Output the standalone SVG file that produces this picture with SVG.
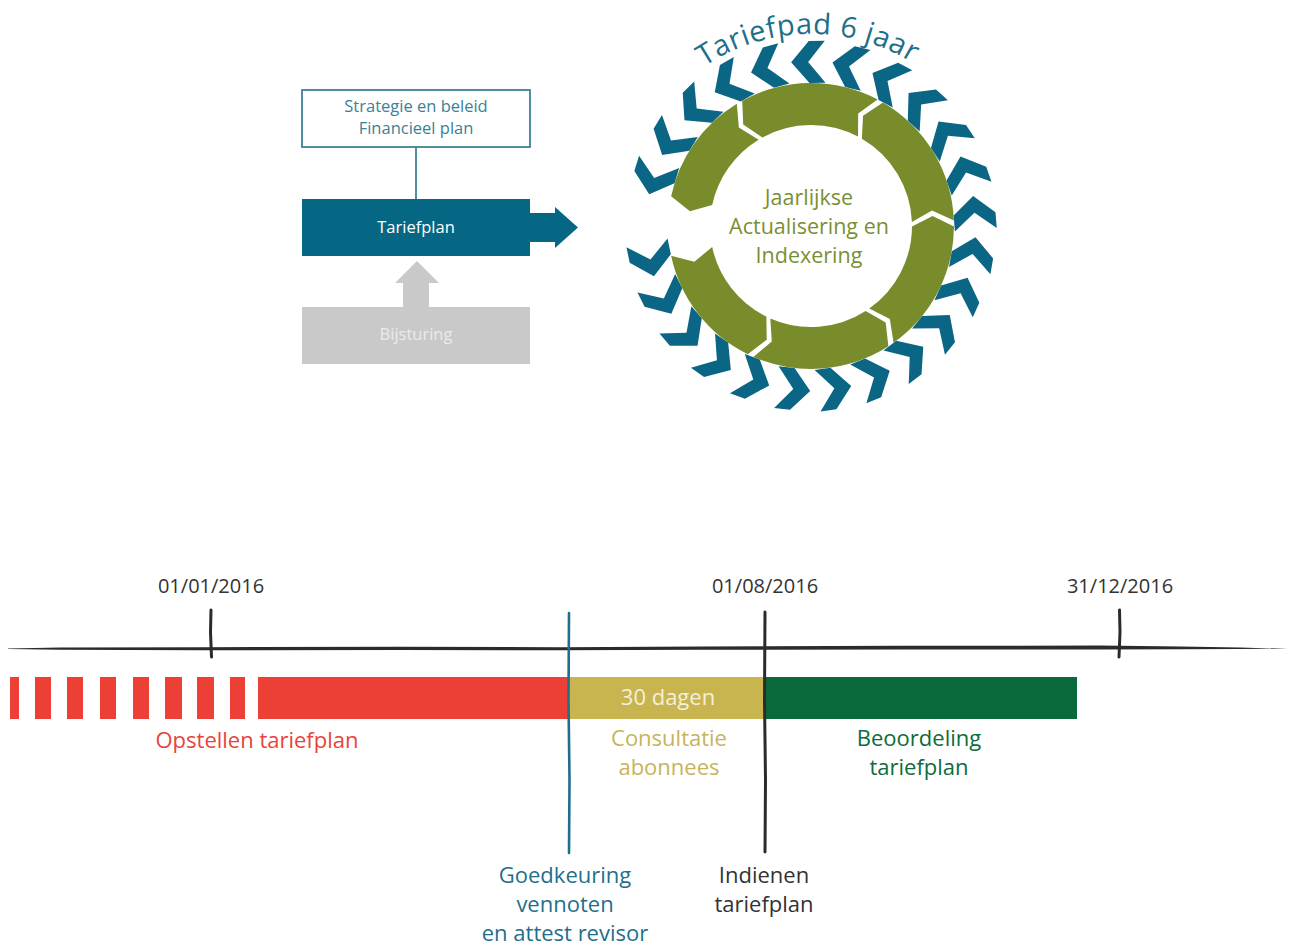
<svg xmlns="http://www.w3.org/2000/svg" width="1294" height="945" viewBox="0 0 1294 945">
<defs>
<style>
text { font-family: "Open Sans", "Noto Sans", "DejaVu Sans", sans-serif; }
.c { text-anchor: middle; }
.chev { fill: #0b6584; }
.seg { fill: #798c2b; }
.ink { stroke: #2b2b2b; stroke-width: 3; fill: none; stroke-linecap: round; }
.bar { stroke: none; }
.lbl { font-size: 22px; }
.date { font-size: 20px; fill: #333333; }
</style>
<path id="chev" d="M954,243 L954,227 L975,209 L996,227 L996,243 L975,226 Z"/>
<path id="arcText" d="M629.46,163.49 A192,192 0 0 1 990.25,157.19"/>
</defs>
<rect width="1294" height="945" fill="#ffffff"/>

<!-- Left diagram nodes -->
<g id="node-strategie">
<rect x="302" y="90" width="228" height="57" fill="#ffffff" stroke="#3f8197" stroke-width="1.8"/>
<text class="c" x="416" y="112" font-size="16.5" fill="#3b8197">Strategie en beleid</text>
<text class="c" x="416" y="134" font-size="16.5" fill="#3b8197">Financieel plan</text>
</g>
<g id="node-tariefplan">
<rect x="302" y="199" width="228" height="57" fill="#066785"/>
<text class="c" x="416" y="233" font-size="16.5" fill="#ffffff">Tariefplan</text>
</g>
<g id="node-bijsturing">
<rect x="302" y="307" width="228" height="57" fill="#c9c9c9"/>
<text class="c" x="416" y="340" font-size="16.5" fill="#ebebeb">Bijsturing</text>
</g>

<!-- Connectors -->
<g id="connectors">
<line x1="416" y1="147" x2="416" y2="199" stroke="#3f8197" stroke-width="1.8"/>
<path d="M530,213 L555,213 L555,207 L578,227.5 L555,248 L555,242 L530,242 Z" fill="#066785"/>
<path d="M403,307 L403,283 L395,283 L417,261 L439,283 L429,283 L429,307 Z" fill="#c9c9c9"/>
</g>

<!-- Cycle -->
<g id="node-cycle">
<g id="chevrons">
<use href="#chev" class="chev" transform="rotate(197 811 226)"/>
<use href="#chev" class="chev" transform="rotate(211.4 811 226)"/>
<use href="#chev" class="chev" transform="rotate(225.8 811 226)"/>
<use href="#chev" class="chev" transform="rotate(240.2 811 226)"/>
<use href="#chev" class="chev" transform="rotate(254.6 811 226)"/>
<use href="#chev" class="chev" transform="rotate(269 811 226)"/>
<use href="#chev" class="chev" transform="rotate(283.4 811 226)"/>
<use href="#chev" class="chev" transform="rotate(297.8 811 226)"/>
<use href="#chev" class="chev" transform="rotate(312.2 811 226)"/>
<use href="#chev" class="chev" transform="rotate(326.6 811 226)"/>
<use href="#chev" class="chev" transform="rotate(341 811 226)"/>
<use href="#chev" class="chev" transform="rotate(355.4 811 226)"/>
<use href="#chev" class="chev" transform="rotate(369.8 811 226)"/>
<use href="#chev" class="chev" transform="rotate(384.2 811 226)"/>
<use href="#chev" class="chev" transform="rotate(398.6 811 226)"/>
<use href="#chev" class="chev" transform="rotate(413 811 226)"/>
<use href="#chev" class="chev" transform="rotate(427.4 811 226)"/>
<use href="#chev" class="chev" transform="rotate(441.8 811 226)"/>
<use href="#chev" class="chev" transform="rotate(456.2 811 226)"/>
<use href="#chev" class="chev" transform="rotate(470.6 811 226)"/>
<use href="#chev" class="chev" transform="rotate(485 811 226)"/>
<use href="#chev" class="chev" transform="rotate(499.4 811 226)"/>
<use href="#chev" class="chev" transform="rotate(513.8 811 226)"/>
<use href="#chev" class="chev" transform="rotate(528.2 811 226)"/>
</g>
<g id="ring">
<path class="seg" d="M671.12,196.27 A143,143 0 0 1 736.82,103.75 L738.86,127.61 L758.60,139.65 A101,101 0 0 0 712.21,205.00 L689.91,211.13 Z"/>
<path class="seg" d="M742.22,100.63 A143,143 0 0 1 877.58,99.45 L858.18,113.49 L858.03,136.62 A101,101 0 0 0 762.42,137.45 L743.22,124.56 Z"/>
<path class="seg" d="M883.04,102.47 A143,143 0 0 1 953.89,220.39 L932.02,210.60 L911.92,222.03 A101,101 0 0 0 861.88,138.75 L863.04,115.66 Z"/>
<path class="seg" d="M954.00,226.62 A143,143 0 0 1 893.55,342.78 L889.83,319.11 L869.30,308.48 A101,101 0 0 0 912.00,226.44 L932.58,215.90 Z"/>
<path class="seg" d="M888.36,346.27 A143,143 0 0 1 753.41,356.89 L771.78,341.53 L770.32,318.45 A101,101 0 0 0 865.64,310.95 L885.69,322.46 Z"/>
<path class="seg" d="M747.75,354.25 A143,143 0 0 1 671.12,255.73 L694.33,261.67 L712.21,247.00 A101,101 0 0 0 766.33,316.58 L766.78,339.71 Z"/>
</g>
<text font-size="29" fill="#1f6f8b" letter-spacing="0.5"><textPath href="#arcText" startOffset="50%" text-anchor="middle">Tariefpad 6 jaar</textPath></text>
<text class="c" x="809" y="205" font-size="21.5" fill="#7a8f33">Jaarlijkse</text>
<text class="c" x="809" y="234" font-size="21.5" fill="#7a8f33">Actualisering en</text>
<text class="c" x="809" y="263" font-size="21.5" fill="#7a8f33">Indexering</text>
</g>

<!-- Timeline -->
<g id="timeline-axis">
<path d="M8,648.6 L60,647.6 L200,647.2 L400,646.8 L560,647.2 L700,646.4 L900,645.8 L1100,645.6 L1180,646.4 L1240,647.6 L1288,648.8 L1240,649 L1180,649.2 L1100,649.4 L900,649.6 L700,649.8 L560,650.2 L400,650 L200,650.2 L60,649.8 L8,649 Z" fill="#2b2b2b"/>
<path class="ink" d="M211,610 L210.5,632 L211.5,657"/>
<path class="ink" d="M1119.5,610 L1120,632 L1119,657"/>
<text class="date c" x="211" y="593">01/01/2016</text>
<text class="date c" x="765" y="593">01/08/2016</text>
<text class="date c" x="1120" y="593">31/12/2016</text>
</g>

<g id="phase-opstellen">
<rect class="bar" x="10" y="677" width="9" height="42" fill="#ec4037"/>
<rect class="bar" x="35" y="677" width="16" height="42" fill="#ec4037"/>
<rect class="bar" x="67" y="677" width="16" height="42" fill="#ec4037"/>
<rect class="bar" x="100" y="677" width="16" height="42" fill="#ec4037"/>
<rect class="bar" x="133" y="677" width="16" height="42" fill="#ec4037"/>
<rect class="bar" x="165" y="677" width="17" height="42" fill="#ec4037"/>
<rect class="bar" x="197" y="677" width="17" height="42" fill="#ec4037"/>
<rect class="bar" x="230" y="677" width="15" height="42" fill="#ec4037"/>
<rect class="bar" x="258" y="677" width="311" height="42" fill="#ec4037"/>
<text class="lbl c" x="257" y="748" fill="#e9433a">Opstellen tariefplan</text>
</g>
<g id="phase-consultatie">
<rect class="bar" x="569" y="677" width="196" height="42" fill="#c9b550"/>
<text class="lbl c" x="668" y="705" fill="#f4f0d8">30 dagen</text>
<text class="lbl c" x="669" y="746" fill="#c7b459">Consultatie</text>
<text class="lbl c" x="669" y="775" fill="#c7b459">abonnees</text>
</g>
<g id="phase-beoordeling">
<rect class="bar" x="765" y="677" width="312" height="42" fill="#0a6a3b"/>
<text class="lbl c" x="919" y="746" fill="#0d6b3c">Beoordeling</text>
<text class="lbl c" x="919" y="775" fill="#0d6b3c">tariefplan</text>
</g>
<g id="milestone-goedkeuring">
<path d="M569,613 L568.5,700 L569.5,780 L569,853" stroke="#1f6f8c" stroke-width="2.6" fill="none" stroke-linecap="round"/>
<text class="lbl c" x="565" y="883" fill="#1f6f8c">Goedkeuring</text>
<text class="lbl c" x="565" y="912" fill="#1f6f8c">vennoten</text>
<text class="lbl c" x="565" y="941" fill="#1f6f8c">en attest revisor</text>
</g>
<g id="milestone-indienen">
<path class="ink" d="M765,612 L764.5,700 L765.5,780 L765,852"/>
<text class="lbl c" x="764" y="883" fill="#333333">Indienen</text>
<text class="lbl c" x="764" y="912" fill="#333333">tariefplan</text>
</g>
</svg>
